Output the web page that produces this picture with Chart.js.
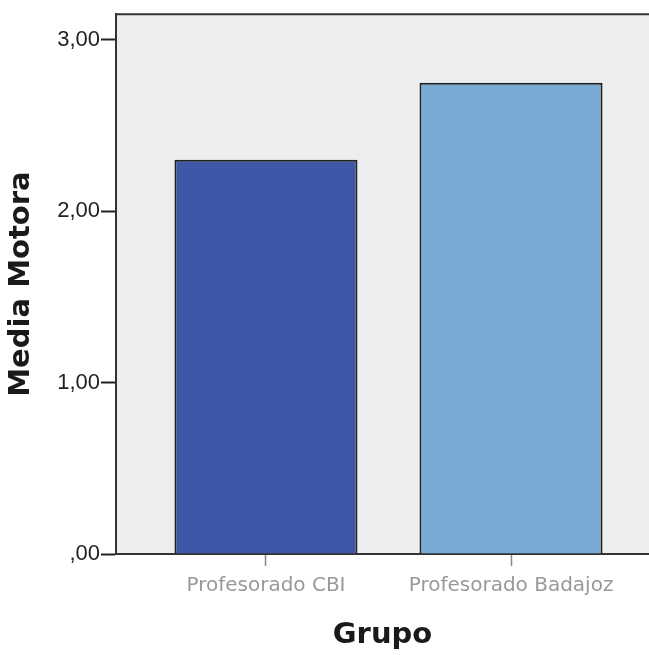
<!DOCTYPE html>
<html lang="es">
<head>
    <meta charset="UTF-8">
    <title>Media Motora por Grupo</title>
    <script src="https://cdn.jsdelivr.net/npm/chart.js"></script>
    <style>
        html, body { margin: 0; padding: 0; background: #fff; overflow: hidden; }
        #wrap { width: 649px; height: 655px; }
    </style>
</head>
<body>
    <div id="wrap"><canvas id="grafico" width="649" height="655"></canvas></div>

    <script>
        // Datos
        const grupos = ['Profesorado CBI', 'Profesorado Badajoz'];
        const posiciones = [1, 2];
        const mediaMotora = [2.30, 2.75];
        const coloresBarras = ['#3e57a7', '#79aad4'];
        const ticksY = [0, 1, 2, 3];
        const etiquetasY = [',00', '1,00', '2,00', '3,00'];

        const fuenteTitulo = '"DejaVu Sans", Verdana, sans-serif';

        // fondo gris del área y borde superior
        const fondoArea = {
            id: 'fondoArea',
            beforeDraw(chart) {
                const { ctx, chartArea: a } = chart;
                ctx.save();
                ctx.fillStyle = '#edeef0';
                ctx.fillRect(a.left, a.top, a.right - a.left, a.bottom - a.top);
                ctx.strokeStyle = '#333';
                ctx.lineWidth = 2;
                ctx.beginPath();
                ctx.moveTo(a.left, a.top);
                ctx.lineTo(a.right, a.top);
                ctx.stroke();
                ctx.restore();
            }
        };

        const ctx = document.getElementById('grafico').getContext('2d');
        new Chart(ctx, {
            type: 'bar',
            data: {
                datasets: [{
                    data: posiciones.map((x, i) => ({ x: x, y: mediaMotora[i] })),
                    backgroundColor: coloresBarras,
                    borderColor: '#222',
                    borderWidth: 2,
                    barPercentage: 0.747,
                    categoryPercentage: 1
                }]
            },
            options: {
                responsive: false,
                animation: false,
                layout: { padding: { top: 14, right: 0, left: 0, bottom: 0 } },
                plugins: {
                    legend: { display: false },
                    tooltip: { enabled: false }
                },
                scales: {
                    x: {
                        type: 'linear',
                        offset: false,
                        min: 0.388,
                        max: 2.563,
                        afterFit(s) { s.height = 101; },
                        afterBuildTicks(s) { s.ticks = posiciones.map(v => ({ value: v })); },
                        grid: {
                            offset: false,
                            drawOnChartArea: false,
                            drawTicks: true,
                            tickLength: 12,
                            color: '#888',
                            tickWidth: 1.5
                        },
                        border: { display: true, color: '#333', width: 2 },
                        ticks: {
                            padding: 8,
                            autoSkip: false,
                            maxRotation: 0,
                            color: '#999',
                            font: { family: fuenteTitulo, size: 20 },
                            callback: v => grupos[posiciones.indexOf(v)] || ''
                        },
                        title: {
                            display: true,
                            text: 'Grupo',
                            color: '#1a1a1a',
                            font: { family: fuenteTitulo, size: 29, weight: 'bold' },
                            padding: { top: 0, bottom: 2 }
                        }
                    },
                    y: {
                        min: 0,
                        max: 3.15,
                        afterFit(s) { s.width = 116; },
                        afterBuildTicks(s) { s.ticks = ticksY.map(v => ({ value: v })); },
                        grid: {
                            drawOnChartArea: false,
                            drawTicks: true,
                            tickLength: 15,
                            color: '#222',
                            tickWidth: 2
                        },
                        border: { display: true, color: '#333', width: 2 },
                        ticks: {
                            padding: 1,
                            color: '#222',
                            font: { family: '"Liberation Sans", Arial, sans-serif', size: 22 },
                            callback: v => etiquetasY[ticksY.indexOf(v)]
                        },
                        title: {
                            display: true,
                            text: 'Media Motora',
                            color: '#1a1a1a',
                            font: { family: fuenteTitulo, size: 29, weight: 'bold' },
                            padding: { top: 4, bottom: 0 }
                        }
                    }
                }
            },
            plugins: [fondoArea]
        });
    </script>
</body>
</html>
